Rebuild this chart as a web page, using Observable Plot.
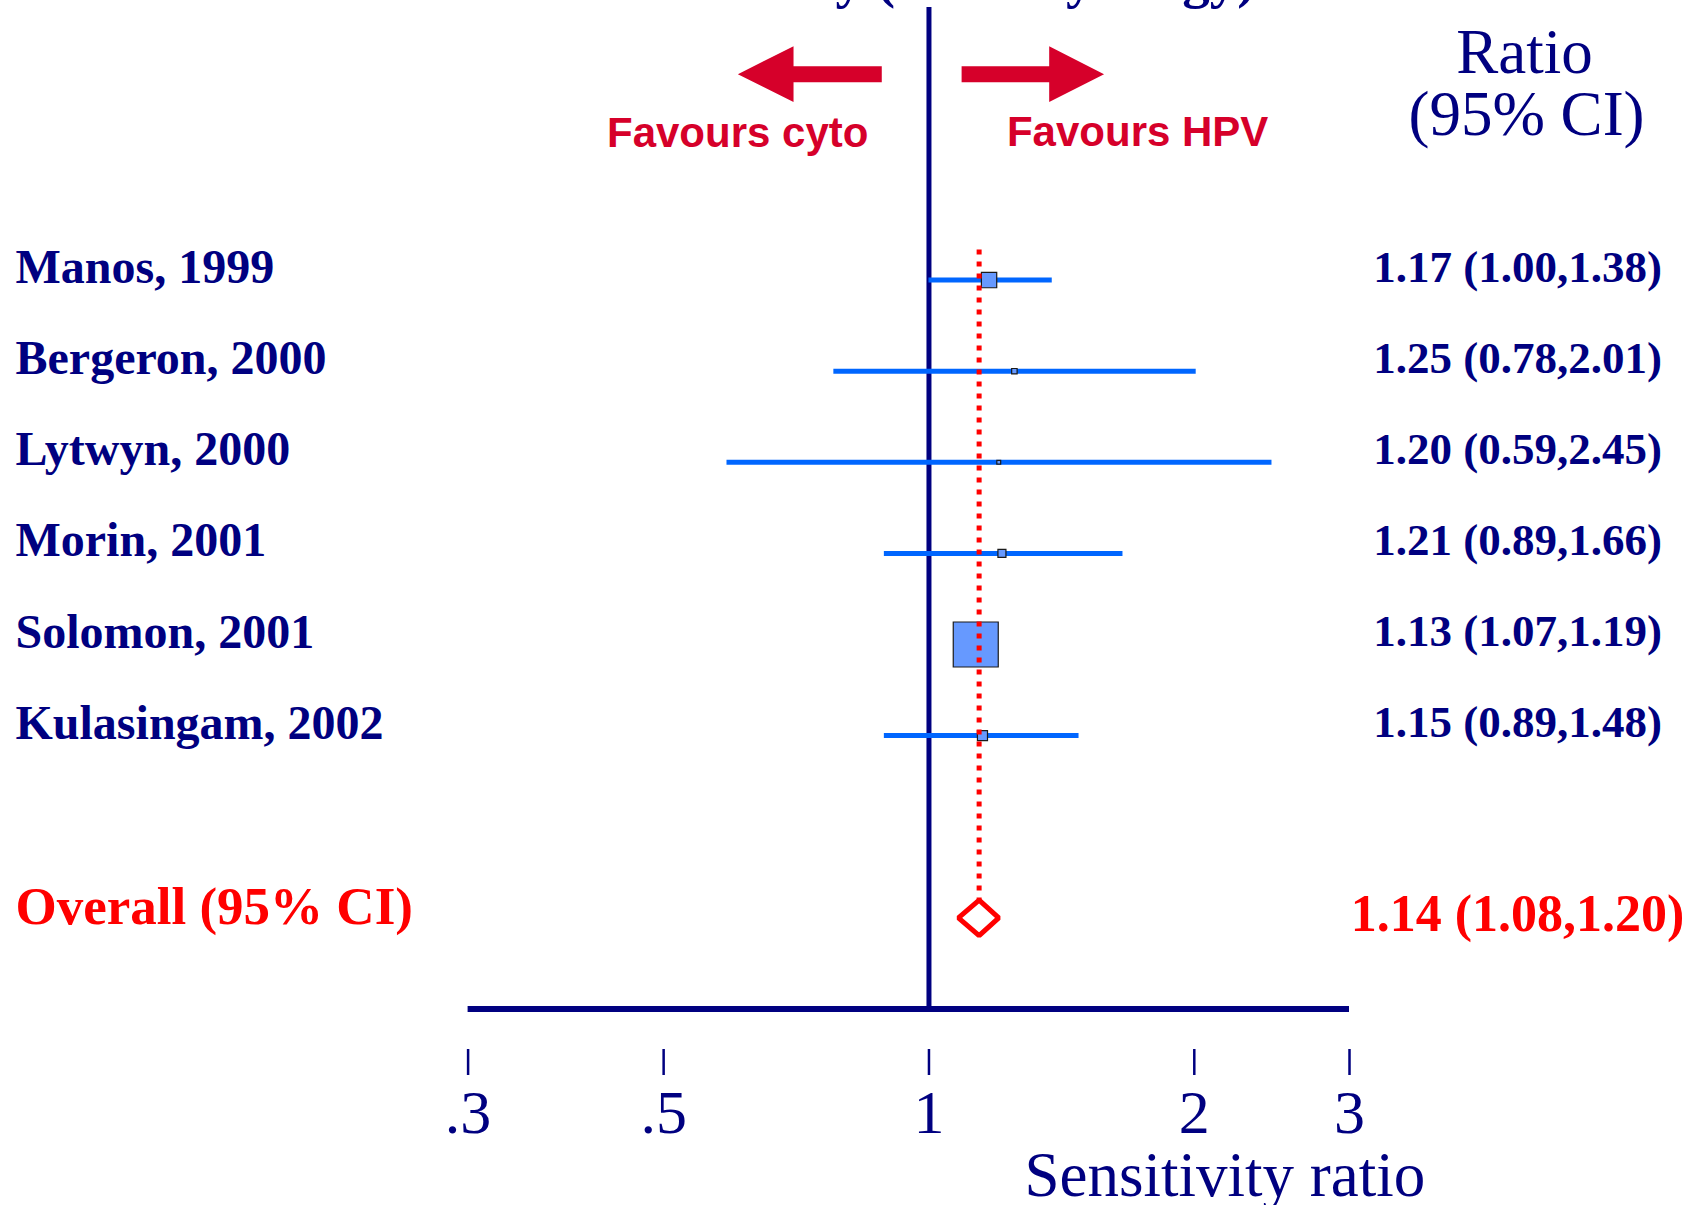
<!DOCTYPE html>
<html><head><meta charset="utf-8">
<script src="https://cdn.jsdelivr.net/npm/d3@7"></script>
<script src="https://cdn.jsdelivr.net/npm/@observablehq/plot@0.6"></script>
<style>html,body{margin:0;padding:0;background:#fff;overflow:hidden}</style>
</head><body><div id="chart"></div>
<script>
// ---- data ----
const studies = ["Manos, 1999", "Bergeron, 2000", "Lytwyn, 2000", "Morin, 2001", "Solomon, 2001", "Kulasingam, 2002"];
const ratios  = [1.17, 1.25, 1.20, 1.21, 1.13, 1.15];
const lowers  = [1.00, 0.78, 0.59, 0.89, 1.07, 0.89];
const uppers  = [1.38, 2.01, 2.45, 1.66, 1.19, 1.48];
const weights = [9.5, 1.2, 0.6, 2.6, 82, 4.1];
const overallLabel = "Overall (95% CI)";
const overallRatio = 1.14, overallLower = 1.08, overallUpper = 1.20;
const xTicks = [0.3, 0.5, 1, 2, 3];
const xTickLabels = [".3", ".5", "1", "2", "3"];
const titleText = "Sensitivity (HPV/Cytology)";
const leftNote = "Favours cyto", rightNote = "Favours HPV";
const headerLines = ["Ratio", "(95% CI)"];
const xTitle = "Sensitivity ratio";

// ---- layout ----
const W = 1693, H = 1205;
const xLeft = 467.6, xRight = 1349;
const rowTop = 279.6, rowStep = 91.1;
const yDomain = [-rowTop / rowStep, (H - rowTop) / rowStep];
const overallRow = 7, axisRow = 8;
const pxRow = px => (px - rowTop) / rowStep;

const navy = "#000080", red = "#ff0000", crimson = "#d6002a";
const whiskerBlue = "#0066ff", squareFill = "#6699ff";
const serif = "Liberation Serif, Times New Roman, serif";
const sans = "Liberation Sans, Arial, sans-serif";

const rows = studies.map((s, i) => ({study: s, ratio: ratios[i], lower: lowers[i], upper: uppers[i], weight: weights[i], row: i}));
const overall = [{label: overallLabel, ratio: overallRatio, lower: overallLower, upper: overallUpper, row: overallRow}];
const fmt = d3.format(".2f");
const ciText = d => `${fmt(d.ratio)} (${fmt(d.lower)},${fmt(d.upper)})`;
const tickLabelOf = new Map(xTicks.map((t, i) => [t, xTickLabels[i]]));

const dh = 0.195;
const diamond = [
  {x: overallLower, y: overallRow},
  {x: overallRatio, y: overallRow - dh},
  {x: overallUpper, y: overallRow},
  {x: overallRatio, y: overallRow + dh}
];

// arrow annotations (in ratio units)
const arrowRow = pxRow(73.7), headHalf = 0.306, shaftHalf = 0.088;
function arrowPoly(tip, base, tail, id) {
  return [
    {x: tip, y: arrowRow},
    {x: base, y: arrowRow - headHalf},
    {x: base, y: arrowRow - shaftHalf},
    {x: tail, y: arrowRow - shaftHalf},
    {x: tail, y: arrowRow + shaftHalf},
    {x: base, y: arrowRow + shaftHalf},
    {x: base, y: arrowRow + headHalf}
  ].map(p => ({...p, id}));
}
const arrows = [...arrowPoly(0.607, 0.702, 0.884, "L"), ...arrowPoly(1.58, 1.369, 1.089, "R")];

const chart = Plot.plot({
  width: W, height: H,
  marginLeft: xLeft, marginRight: W - xRight, marginTop: 0, marginBottom: H - 1049,
  style: {background: "white", color: navy, overflow: "visible"},
  x: {type: "log", domain: [0.3, 3], range: [xLeft, xRight], axis: null},
  y: {domain: yDomain, range: [0, H], axis: null},
  r: {type: "sqrt", domain: [0, 82], range: [0, 45 / Math.sqrt(Math.PI)]},
  marks: [
    Plot.ruleX([1], {y1: pxRow(7), y2: axisRow, stroke: navy, strokeWidth: 5}),
    Plot.ruleY([axisRow], {x1: 0.3, x2: 3, stroke: navy, strokeWidth: 6}),
    Plot.axisX({ticks: xTicks, anchor: "bottom", tickSize: 26, tickPadding: 13,
      tickFormat: d => tickLabelOf.get(d), fontSize: 62, fontFamily: serif, strokeWidth: 2.5, label: null}),
    Plot.ruleY(rows, {y: "row", x1: "lower", x2: "upper", stroke: whiskerBlue, strokeWidth: 5}),
    Plot.dot(rows, {x: "ratio", y: "row", r: "weight", symbol: "square", fill: squareFill, stroke: "#1a1a1a", strokeWidth: 1.2}),
    Plot.ruleX([overallRatio], {y1: pxRow(249.5), y2: overallRow - dh, stroke: red, strokeWidth: 5, strokeDasharray: "5,7"}),
    Plot.line(diamond, {x: "x", y: "y", curve: "linear-closed", fill: "white", stroke: red, strokeWidth: 5, strokeLinejoin: "miter"}),
    Plot.line(arrows, {x: "x", y: "y", z: "id", curve: "linear-closed", fill: crimson, stroke: "none"}),
    // study labels
    Plot.text(rows, {frameAnchor: "left", y: "row", text: "study", textAnchor: "start", lineAnchor: "bottom",
      dx: 15 - xLeft, dy: 3, fontSize: 48, fontWeight: "bold", fontFamily: serif, fill: navy}),
    Plot.text(rows, {frameAnchor: "right", y: "row", text: ciText, textAnchor: "middle", lineAnchor: "bottom",
      dx: 1517 - xRight, dy: 1.5, fontSize: 45, fontWeight: "bold", fontFamily: serif, fill: navy}),
    Plot.text(overall, {frameAnchor: "left", y: "row", text: "label", textAnchor: "start", lineAnchor: "bottom",
      dx: 15 - xLeft, dy: 6, fontSize: 53, fontWeight: "bold", fontFamily: serif, fill: red}),
    Plot.text(overall, {frameAnchor: "right", y: "row", text: ciText, textAnchor: "middle", lineAnchor: "bottom",
      dx: 1517 - xRight, dy: 12.7, fontSize: 52, fontWeight: "bold", fontFamily: serif, fill: red}),
    // header
    Plot.text([headerLines[0]], {frameAnchor: "top-right", text: d => d, textAnchor: "middle", lineAnchor: "bottom",
      dx: 1524 - xRight, dy: 72.3, fontSize: 63, fontFamily: serif, fill: navy}),
    Plot.text([headerLines[1]], {frameAnchor: "top-right", text: d => d, textAnchor: "middle", lineAnchor: "bottom",
      dx: 1526 - xRight, dy: 134.3, fontSize: 63, fontFamily: serif, fill: navy}),
    // favours notes
    Plot.text([leftNote], {x: 0.6067, frameAnchor: "top", text: d => d, textAnchor: "middle", lineAnchor: "bottom",
      dy: 146.7, fontSize: 42, fontWeight: "bold", fontFamily: sans, fill: crimson}),
    Plot.text([rightNote], {x: 1.725, frameAnchor: "top", text: d => d, textAnchor: "middle", lineAnchor: "bottom",
      dy: 145.5, fontSize: 42, fontWeight: "bold", fontFamily: sans, fill: crimson}),
    // title (mostly above the visible area)
    Plot.text([titleText], {x: 1, frameAnchor: "top", text: d => d, textAnchor: "middle", lineAnchor: "bottom",
      dx: 8, dy: -4, fontSize: 55, fontWeight: "bold", fontFamily: serif, fill: navy}),
    // x title
    Plot.text([xTitle], {frameAnchor: "top-left", text: d => d, textAnchor: "start", lineAnchor: "bottom",
      dx: 1024 - xLeft, dy: 1195, fontSize: 63, fontFamily: serif, fill: navy})
  ]
});
document.getElementById("chart").appendChild(chart);
</script>
</body></html>
